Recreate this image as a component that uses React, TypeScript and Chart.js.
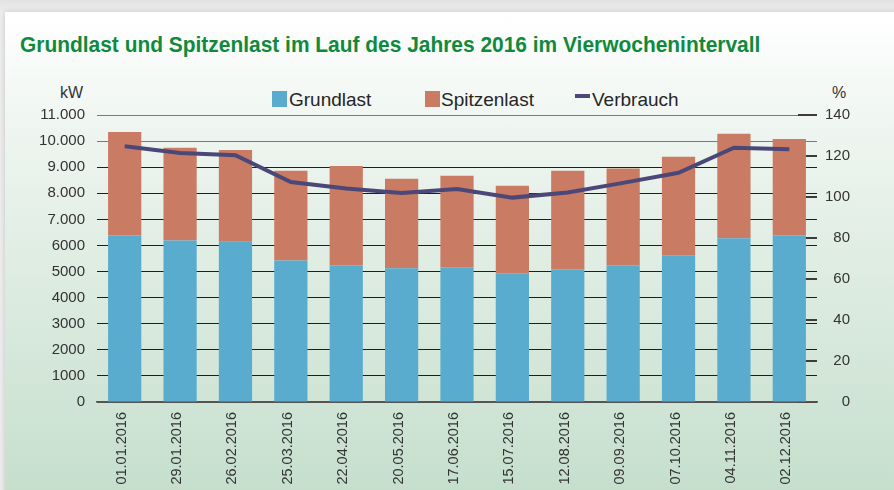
import React, { useEffect, useRef } from "react";
import { Chart, registerables } from "chart.js";

Chart.register(...registerables);

const categories = [
  "01.01.2016", "29.01.2016", "26.02.2016", "25.03.2016", "22.04.2016", "20.05.2016",
  "17.06.2016", "15.07.2016", "12.08.2016", "09.09.2016", "07.10.2016", "04.11.2016", "02.12.2016",
];
const grundlast = [6380, 6190, 6140, 5420, 5230, 5130, 5160, 4930, 5080, 5230, 5620, 6280, 6380];
const spitzenlast = [3970, 3550, 3520, 3440, 3820, 3430, 3510, 3360, 3780, 3720, 3780, 4000, 3700];
const verbrauch = [124.8, 121.5, 120.4, 107.3, 104.1, 102.0, 103.9, 99.7, 102.2, 106.9, 111.8, 124.0, 123.3];
const kwTickLabels = ["0", "1000", "2000", "3000", "4000", "5000", "6000", "7.000", "8.000", "9.000", "10.000", "11.000"];
const pctTickLabels = ["0", "20", "40", "60", "80", "100", "120", "140"];

const BLUE = "#5aacce";
const BROWN = "#c97b63";
const LINE = "#4b4878";
const TEXT = "#333333";

export default function App() {
  const ref = useRef<HTMLCanvasElement | null>(null);

  useEffect(() => {
    if (!ref.current) return;
    const chart = new Chart(ref.current, {
      type: "bar",
      data: {
        labels: categories,
        datasets: [
          {
            type: "line",
            label: "Verbrauch",
            data: verbrauch,
            yAxisID: "y1",
            borderColor: LINE,
            backgroundColor: LINE,
            borderWidth: 4,
            pointRadius: 0,
            tension: 0,
            order: 0,
          } as any,
          {
            label: "Grundlast",
            data: grundlast,
            backgroundColor: BLUE,
            stack: "s",
            yAxisID: "y",
            categoryPercentage: 1,
            barPercentage: 0.6,
            order: 1,
          },
          {
            label: "Spitzenlast",
            data: spitzenlast,
            backgroundColor: BROWN,
            stack: "s",
            yAxisID: "y",
            categoryPercentage: 1,
            barPercentage: 0.6,
            order: 1,
          },
        ],
      },
      options: {
        responsive: false,
        animation: false,
        devicePixelRatio: 1,
        layout: { padding: { top: 115, left: 0, right: 44, bottom: 0 } },
        plugins: {
          legend: { display: false },
          tooltip: { enabled: false },
          title: { display: false },
        },
        scales: {
          x: {
            stacked: true,
            grid: { display: false },
            border: { display: true, color: "#555555", width: 1.5 },
            ticks: {
              minRotation: 90,
              maxRotation: 90,
              padding: 2,
              labelOffset: -3,
              color: TEXT,
              font: { family: "'Liberation Sans', Arial, sans-serif", size: 14.5 },
            },
            afterFit: (s: any) => {
              s.height = 88;
            },
          },
          y: {
            position: "left",
            stacked: true,
            min: 0,
            max: 11000,
            border: { display: false },
            grid: {
              drawTicks: false,
              lineWidth: 1,
              color: (c: any) =>
                c.tick && c.tick.value >= 10000 ? "#7a7a7a" : c.tick && c.tick.value === 0 ? "#555555" : "#1e1e1e",
            },
            ticks: {
              stepSize: 1000,
              padding: 12,
              color: TEXT,
              font: { family: "'Liberation Sans', Arial, sans-serif", size: 15 },
              callback: (_v: any, i: number) => kwTickLabels[i],
            },
            afterFit: (s: any) => {
              s.width = 97;
            },
          },
          y1: {
            position: "right",
            min: 0,
            max: 140,
            border: { display: false },
            grid: {
              drawOnChartArea: false,
              drawTicks: true,
              tickLength: -19,
              color: "#3c3c3c",
              lineWidth: 2,
            },
            ticks: {
              stepSize: 20,
              padding: 4,
              crossAlign: "far",
              color: TEXT,
              font: { family: "'Liberation Sans', Arial, sans-serif", size: 15 },
              callback: (_v: any, i: number) => pctTickLabels[i],
            },
            afterFit: (s: any) => {
              s.width = 33;
            },
          },
        },
      },
    });
    return () => chart.destroy();
  }, []);

  const legendText: React.CSSProperties = {
    position: "absolute",
    top: 90,
    fontFamily: "'Liberation Sans', Arial, sans-serif",
    fontSize: 19,
    lineHeight: "19px",
    color: "#262626",
    whiteSpace: "nowrap",
  };

  return (
    <div
      style={{
        position: "fixed",
        left: 0,
        top: 0,
        width: 894,
        height: 490,
        overflow: "hidden",
        background: "linear-gradient(#e2e2e2, #eeeeee 12px, #eeeeee)",
      }}
    >
      <div
        style={{
          position: "absolute",
          left: 5,
          top: 12,
          width: 910,
          height: 500,
          background: "linear-gradient(180deg, #ffffff 0px, #eef5f0 120px, #dcebe0 280px, #c6dfcd 478px)",
          boxShadow: "0 0 6px rgba(0,0,0,0.18)",
        }}
      />
      <div
        style={{
          position: "absolute",
          left: 20,
          top: 34,
          fontFamily: "'Liberation Sans', Arial, sans-serif",
          fontWeight: "bold",
          fontSize: 22.5,
          lineHeight: "22.5px",
          color: "#0f8a3c",
          whiteSpace: "nowrap",
          transform: "scaleX(0.93)",
          transformOrigin: "0 0",
        }}
      >
        Grundlast und Spitzenlast im Lauf des Jahres 2016 im Vierwochenintervall
      </div>
      <div style={{ position: "absolute", left: 60, top: 85, fontFamily: "'Liberation Sans', Arial, sans-serif", fontSize: 16, lineHeight: "16px", color: TEXT }}>kW</div>
      <div style={{ position: "absolute", left: 832, top: 85, fontFamily: "'Liberation Sans', Arial, sans-serif", fontSize: 16, lineHeight: "16px", color: TEXT }}>%</div>

      <div style={{ position: "absolute", left: 272, top: 91, width: 15, height: 16, background: BLUE }} />
      <div style={{ ...legendText, left: 289 }}>Grundlast</div>
      <div style={{ position: "absolute", left: 425, top: 91, width: 15, height: 16, background: BROWN }} />
      <div style={{ ...legendText, left: 441 }}>Spitzenlast</div>
      <div style={{ position: "absolute", left: 575, top: 94, width: 15, height: 4, background: LINE }} />
      <div style={{ ...legendText, left: 592 }}>Verbrauch</div>

      <canvas ref={ref} width={894} height={490} style={{ position: "absolute", left: 0, top: 0, width: 894, height: 490 }} />
    </div>
  );
}
